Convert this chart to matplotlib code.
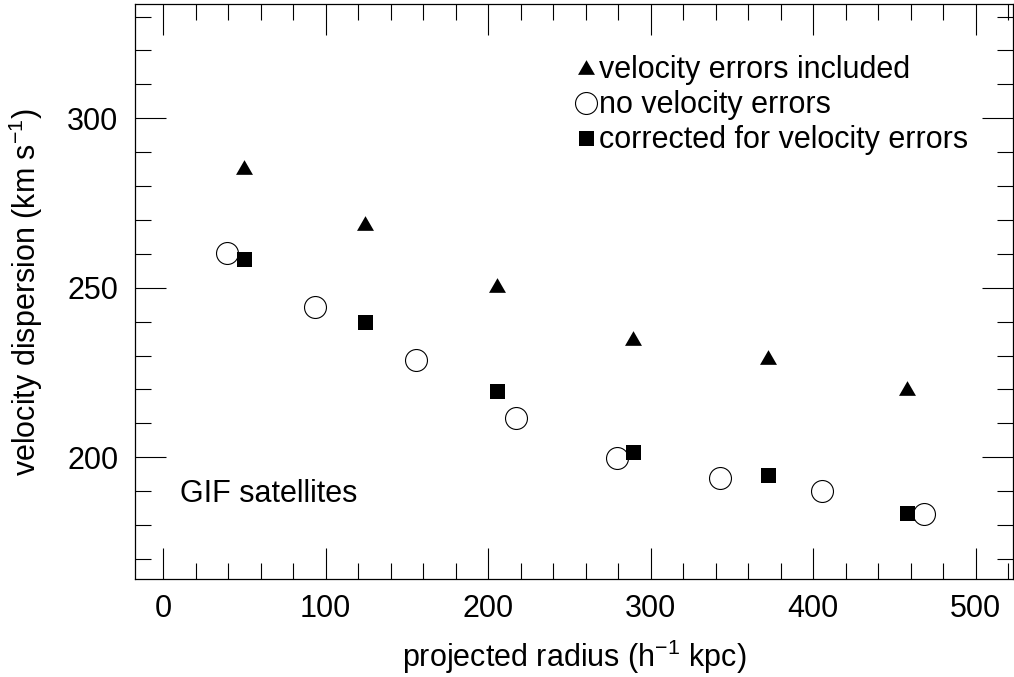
import numpy as np
import matplotlib
matplotlib.use("Agg")
import matplotlib.pyplot as plt
from matplotlib.ticker import MultipleLocator

plt.rcParams['font.family'] = ['Liberation Sans', 'DejaVu Sans']
plt.rcParams['mathtext.fontset'] = 'custom'
plt.rcParams['mathtext.rm'] = 'Liberation Sans'
plt.rcParams['mathtext.it'] = 'Liberation Sans:italic'

# data
r_err = [49.5, 124, 205.5, 289, 372, 457.5]
sig_err = [285.6, 269.2, 250.8, 235.3, 229.5, 220.3]

r_noerr = [39.1, 93.6, 155.4, 217.4, 279.3, 342.4, 405.4, 468.4]
sig_noerr = [260.3, 244.4, 228.8, 211.7, 199.9, 194.0, 190.2, 183.3]

r_corr = [49.5, 124, 205.5, 289, 372, 457.5]
sig_corr = [258.4, 240.0, 219.5, 201.6, 194.9, 183.7]

# equilateral triangle marker
tri = [(0, 0.433), (-0.5, -0.433), (0.5, -0.433), (0, 0.433)]

fig = plt.figure(figsize=(10.14, 6.77), dpi=100)
ax = fig.add_axes([135 / 1014, 1 - 579 / 677, 878 / 1014, 575 / 677])

ax.plot(r_err, sig_err, linestyle='none', marker=tri, markersize=12.2,
        color='black', markeredgewidth=0, label='velocity errors included')
ax.plot(r_noerr, sig_noerr, linestyle='none', marker='o', markersize=15.8,
        markerfacecolor='white', markeredgecolor='black', markeredgewidth=0.8,
        label='no velocity errors')
ax.plot(r_corr, sig_corr, linestyle='none', marker='s', markersize=10.8,
        color='black', markeredgewidth=0, label='corrected for velocity errors')

ax.set_xlim(-17.4, 523)
ax.set_ylim(164.1, 333.7)

ax.xaxis.set_major_locator(MultipleLocator(100))
ax.xaxis.set_minor_locator(MultipleLocator(20))
ax.yaxis.set_major_locator(MultipleLocator(50))
ax.yaxis.set_minor_locator(MultipleLocator(10))

ax.tick_params(which='both', direction='in', top=True, right=True, width=0.8, colors='black')
ax.tick_params(which='major', length=22.3, labelsize=22)
ax.tick_params(which='minor', length=11.2)
ax.tick_params(axis='x', which='major', pad=11)
ax.tick_params(axis='y', which='major', pad=12)
for s in ax.spines.values():
    s.set_linewidth(0.9)

ax.set_xlabel(r'projected radius (h$^{-1}$ kpc)', fontsize=22, labelpad=10)
ax.set_ylabel(r'velocity dispersion (km s$^{-1}$)', fontsize=22, labelpad=16)

ax.text(10.3, 186.8, 'GIF satellites', fontsize=22, va='baseline', ha='left')

ax.legend(loc='upper left', bbox_to_anchor=(578 / 1014, 1 - 55 / 677),
          bbox_transform=fig.transFigure, frameon=False, fontsize=22,
          handlelength=0.5, handletextpad=0.2, labelspacing=0.17,
          borderpad=0, borderaxespad=0, numpoints=1)

fig.savefig('out.png', dpi=100)
